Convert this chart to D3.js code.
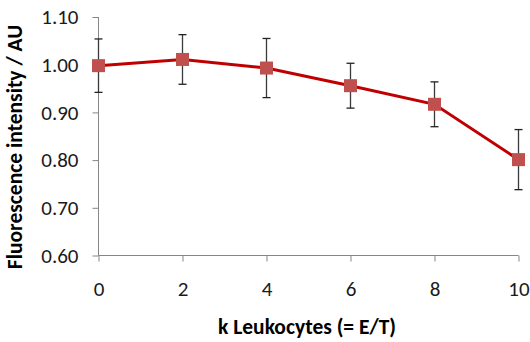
<!DOCTYPE html>
<html>
<head>
<meta charset="utf-8">
<script src="https://cdn.jsdelivr.net/npm/d3@7"></script>
<style>
  body { margin: 0; background: #fff; }
  text { font-family: Carlito, Lato, "Open Sans", sans-serif; }
  .axis path, .axis line { stroke: #868686; }
  .axis text { font-size: 21px; fill: #1a1a1a; }
  .axis-labels { font-size: 21.5px; font-weight: bold; fill: #000; }
</style>
</head>
<body>
<svg id="chart" width="530" height="342"></svg>
<script>
// values
const leukocytes = [0, 2, 4, 6, 8, 10];
const intensity = [0.998, 1.011, 0.993, 0.956, 0.917, 0.801];
const errors = [0.056, 0.052, 0.062, 0.047, 0.047, 0.063];
const yTicks = [0.6, 0.7, 0.8, 0.9, 1.0, 1.1];

const svg = d3.select('#chart');
const margin = { top: 17, right: 11.5, bottom: 86.5, left: 98.5 };
const width = 530 - margin.left - margin.right;
const height = 342 - margin.top - margin.bottom;

const surface = svg.append('g')
  .attr('transform', `translate(${margin.left}, ${margin.top})`);

// Set the ranges
const x = d3.scaleLinear().domain([0, 10]).range([0, width]);
const y = d3.scaleLinear().domain([0.6, 1.1]).range([height, 0]);

// Define the axes
const xAxis = d3.axisBottom(x).tickValues(leukocytes).tickSizeOuter(0).tickSize(6).tickPadding(20);
const yAxis = d3.axisLeft(y).tickValues(yTicks).tickFormat(d3.format('.2f'))
  .tickSizeOuter(0).tickSize(6).tickPadding(14);

const gx = surface.append('g')
  .attr('class', 'x axis')
  .attr('transform', `translate(0, ${height})`)
  .call(xAxis);

const gy = surface.append('g')
  .attr('class', 'y axis')
  .call(yAxis);

// Excel draws the axes without outer ticks
gy.select('.domain').attr('d', `M0,${height}V0`);
gx.select('.domain').attr('d', `M0,0H${width}`);

// error bars
const points = leukocytes.map((k, i) => ({ k, v: intensity[i], e: errors[i] }));
const bars = surface.selectAll('g.err')
  .data(points)
  .enter().append('g')
  .attr('class', 'err');

bars.append('line')
  .attr('x1', d => x(d.k)).attr('x2', d => x(d.k))
  .attr('y1', d => y(d.v + d.e)).attr('y2', d => y(d.v - d.e))
  .attr('stroke', '#3a3a3a')
  .attr('stroke-width', 1.3);

[1, -1].forEach((s) => {
  bars.append('line')
    .attr('x1', d => x(d.k) - 4).attr('x2', d => x(d.k) + 4)
    .attr('y1', d => y(d.v + s * d.e)).attr('y2', d => y(d.v + s * d.e))
    .attr('stroke', '#222')
    .attr('stroke-width', 1.3);
});

// the line
const line = d3.line().x(d => x(d.k)).y(d => y(d.v));
surface.append('path')
  .datum(points)
  .attr('fill', 'none')
  .attr('stroke', '#c00000')
  .attr('stroke-width', 3)
  .attr('d', line);

// square markers
const size = 13;
surface.selectAll('rect.marker')
  .data(points)
  .enter().append('rect')
  .attr('class', 'marker')
  .attr('x', d => x(d.k) - size / 2)
  .attr('y', d => y(d.v) - size / 2)
  .attr('width', size)
  .attr('height', size)
  .attr('fill', '#c0504d');

// axis titles
svg.append('text')
  .attr('class', 'axis-labels')
  .attr('x', 307)
  .attr('y', 334)
  .style('text-anchor', 'middle')
  .text('k Leukocytes (= E/T)');

svg.append('text')
  .attr('class', 'axis-labels')
  .attr('transform', 'translate(22, 147) rotate(-90)')
  .style('text-anchor', 'middle')
  .text('Fluorescence intensity / AU');
</script>
</body>
</html>
